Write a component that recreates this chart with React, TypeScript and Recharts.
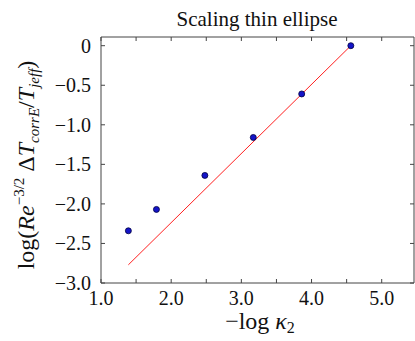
import { ComposedChart, Scatter, XAxis, YAxis } from "recharts"

// measured points (-log kappa2, log of scaled temperature)
const xs = [1.39, 1.79, 2.48, 3.17, 3.86, 4.56]
const ys = [-2.34, -2.07, -1.64, -1.16, -0.61, 0.0]
// fitted straight line, end points
const fitX = [1.39, 4.56]
const fitY = [-2.77, 0.0]

const xTicks = [1, 1.5, 2, 2.5, 3, 3.5, 4, 4.5, 5]
const yTicks = [-3, -2.5, -2, -1.5, -1, -0.5, 0]

const points = xs.map((x, i) => ({ x, y: ys[i] }))
const fit = fitX.map((x, i) => ({ x, y: fitY[i] }))

const FONT = "Liberation Serif, DejaVu Serif, serif"
const AXIS = "#444"
const txt = { fontFamily: FONT }

const fmtX = (v: number) => (Number.isInteger(v) ? v.toFixed(1) : "")
const fmtY = (v: number) => (v === 0 ? "0" : "\u2212" + Math.abs(v).toFixed(1))

function BottomTick(props: any) {
  const { x, y, payload } = props
  return (
    <g>
      <line x1={x} x2={x} y1={y} y2={y - 4} stroke={AXIS} />
      <text x={x} y={y + 22} textAnchor="middle" style={txt} fontSize={20} fill="#111">
        {fmtX(payload.value)}
      </text>
    </g>
  )
}

function TopTick(props: any) {
  const { x, y } = props
  return <line x1={x} x2={x} y1={y} y2={y + 4} stroke={AXIS} />
}

function LeftTick(props: any) {
  const { x, y, payload } = props
  return (
    <g>
      <line x1={x} x2={x + 4} y1={y} y2={y} stroke={AXIS} />
      <text x={x - 10} y={y + 7} textAnchor="end" style={txt} fontSize={20} fill="#111">
        {fmtY(payload.value)}
      </text>
    </g>
  )
}

function RightTick(props: any) {
  const { x, y } = props
  return <line x1={x} x2={x - 4} y1={y} y2={y} stroke={AXIS} />
}

// y axis title plus the chart title
const yLabel = () => (
  <g>
    <text x={257} y={26} textAnchor="middle" style={txt} fontSize={21} fill="#111">
      Scaling thin ellipse
    </text>
    <text transform="translate(34,165) rotate(-90)" textAnchor="middle" style={txt} fontSize={24} fill="#111">
      <tspan>log(</tspan>
      <tspan fontStyle="italic">Re</tspan>
      <tspan dy={-10} fontSize={15}>{"\u22123/2"}</tspan>
      <tspan dy={10}> Δ</tspan>
      <tspan fontStyle="italic">T</tspan>
      <tspan dy={5} fontSize={15} fontStyle="italic">corrE</tspan>
      <tspan dy={-5}>/</tspan>
      <tspan fontStyle="italic">T</tspan>
      <tspan dy={5} fontSize={15} fontStyle="italic">jeff</tspan>
      <tspan dy={-5}>)</tspan>
    </text>
  </g>
)

const xLabel = () => (
  <text x={260} y={329} textAnchor="middle" style={txt} fontSize={24} fill="#111">
    <tspan>{"\u2212log "}</tspan>
    <tspan fontStyle="italic">κ</tspan>
    <tspan dy={4} fontSize={16}>2</tspan>
  </text>
)

const Dot = (props: any) => (
  <circle cx={props.cx} cy={props.cy} r={3} fill="#1414c8" stroke="#000040" strokeWidth={0.8} />
)
const NoDot = () => <g />

export default function App() {
  return (
    <div style={{ position: "absolute", left: 0, top: 0, width: 415, height: 341, background: "#fff" }}>
      <ComposedChart width={415} height={341} margin={{ top: 36, right: 0, left: 0, bottom: 0 }}>
        <XAxis
          xAxisId="b"
          dataKey="x"
          type="number"
          domain={[1, 5.46]}
          allowDataOverflow
          ticks={xTicks}
          interval={0}
          height={58}
          tickSize={0}
          tickMargin={0}
          stroke={AXIS}
          tick={<BottomTick />}
          label={xLabel}
        />
        <XAxis
          xAxisId="t"
          dataKey="x"
          type="number"
          orientation="top"
          domain={[1, 5.46]}
          allowDataOverflow
          ticks={xTicks}
          interval={0}
          height={1}
          tickSize={0}
          tickMargin={0}
          stroke={AXIS}
          tick={<TopTick />}
        />
        <YAxis
          yAxisId="l"
          type="number"
          domain={[-3, 0.11]}
          allowDataOverflow
          ticks={yTicks}
          interval={0}
          width={101}
          tickSize={0}
          tickMargin={0}
          stroke={AXIS}
          tick={<LeftTick />}
          label={yLabel}
        />
        <YAxis
          yAxisId="r"
          type="number"
          orientation="right"
          domain={[-3, 0.11]}
          allowDataOverflow
          ticks={yTicks}
          interval={0}
          width={1}
          tickSize={0}
          tickMargin={0}
          stroke={AXIS}
          tick={<RightTick />}
        />
        <Scatter
          xAxisId="b"
          yAxisId="l"
          data={fit}
          dataKey="y"
          line={{ stroke: "#ff2020", strokeWidth: 1 }}
          shape={NoDot}
          isAnimationActive={false}
        />
        <Scatter
          xAxisId="b"
          yAxisId="l"
          data={points}
          dataKey="y"
          shape={Dot}
          isAnimationActive={false}
        />
      </ComposedChart>
    </div>
  )
}
